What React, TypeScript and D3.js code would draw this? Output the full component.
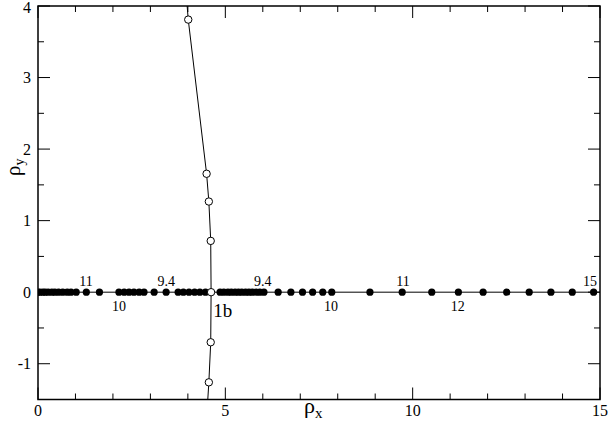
import React, { useEffect } from "react";
import * as d3 from "d3";

const filledX: number[] = [
  0, 0.05, 0.13, 0.19, 0.27, 0.37, 0.45, 0.55, 0.66, 0.78, 0.88, 1.02, 1.29, 1.64,
  2.16, 2.3, 2.43, 2.56, 2.7, 2.83, 3.1, 3.42,
  3.74, 3.88, 4.03, 4.18, 4.32, 4.47,
  4.86, 4.96, 5.07, 5.16, 5.26, 5.35, 5.44, 5.54, 5.63, 5.72, 5.82, 5.92, 6.03,
  6.41, 6.75, 7.06, 7.33, 7.6, 7.84, 8.86, 9.72, 10.51, 11.22, 11.88, 12.51, 13.11,
  13.69, 14.26, 14.83,
];
const filledY: number[] = filledX.map(() => 0);

const curveX: number[] = [3.95, 4.01, 4.5, 4.56, 4.61, 4.62, 4.61, 4.56, 4.52];
const curveY: number[] = [4.2, 3.81, 1.655, 1.267, 0.717, 0, -0.7, -1.26, -1.6];
const openX: number[] = [4.01, 4.5, 4.56, 4.61, 4.62, 4.61, 4.56];
const openY: number[] = [3.81, 1.655, 1.267, 0.717, 0, -0.7, -1.26];

const labelText: string[] = ["11", "10", "9.4", "9.4", "10", "11", "12", "15"];
const labelX: number[] = [1.28, 2.16, 3.42, 6.0, 7.82, 9.74, 11.2, 14.73];
const labelSide: string[] = ["above", "below", "above", "above", "below", "above", "below", "above"];

const xMajor: number[] = [0, 5, 10, 15];
const yMajor: number[] = [-1, 0, 1, 2, 3, 4];

const W = 609;
const H = 425;
const L = 38, R = 600, T = 6, B = 399.5;

export default function App() {
  useEffect(() => {
    document.body.style.margin = "0";
  }, []);

  const x = d3.scaleLinear().domain([0, 15]).range([L, R]);
  const y = d3.scaleLinear().domain([-1.5, 4]).range([B, T]);

  const xMinor = d3.range(0, 15.001, 1);
  const yMinor = d3.range(-1.5, 4.001, 0.5);

  const curveLine = d3
    .line<number>()
    .x((_, i) => x(curveX[i]))
    .y((_, i) => y(curveY[i]));
  const hLine = d3
    .line<number>()
    .x((d) => x(d))
    .y(() => y(0));

  const font = "'Liberation Serif', 'Times New Roman', serif";

  return (
    <svg width={W} height={H} style={{ display: "block", background: "#fff" }}>
      <defs>
        <clipPath id="plotclip">
          <rect x={L} y={T} width={R - L} height={B - T} />
        </clipPath>
      </defs>
      {/* ticks */}
      {xMinor.map((v) => {
        const big = xMajor.includes(v);
        const len = big ? 12 : 6;
        return (
          <g key={"xt" + v}>
            <line x1={x(v)} x2={x(v)} y1={B} y2={B - len} stroke="#000" strokeWidth={1} />
            <line x1={x(v)} x2={x(v)} y1={T} y2={T + len} stroke="#000" strokeWidth={1} />
          </g>
        );
      })}
      {yMinor.map((v) => {
        const big = yMajor.includes(v);
        const len = big ? 12 : 6;
        return (
          <g key={"yt" + v}>
            <line x1={L} x2={L + len} y1={y(v)} y2={y(v)} stroke="#000" strokeWidth={1} />
            <line x1={R} x2={R - len} y1={y(v)} y2={y(v)} stroke="#000" strokeWidth={1} />
          </g>
        );
      })}
      {/* tick labels */}
      {xMajor.map((v) => (
        <text key={"xl" + v} x={x(v)} y={416} textAnchor="middle" fontFamily={font} fontSize={16}>
          {v}
        </text>
      ))}
      {yMajor.map((v) => (
        <text
          key={"yl" + v}
          x={31}
          y={Math.max(y(v) + 5.5, 12.5)}
          textAnchor="end"
          fontFamily={font}
          fontSize={16}
        >
          {v}
        </text>
      ))}
      {/* axis labels */}
      <text x={304} y={413} fontFamily={font} fontSize={22}>
        ρ<tspan fontSize={15} dy={5}>x</tspan>
      </text>
      <text transform="translate(20,176) rotate(-90)" fontFamily={font} fontSize={21}>
        ρ<tspan fontSize={14} dy={4}>y</tspan>
      </text>

      <g clipPath="url(#plotclip)">
        <path d={hLine([0, 15]) || ""} stroke="#000" strokeWidth={1} fill="none" />
        <path d={curveLine(curveX) || ""} stroke="#000" strokeWidth={1} fill="none" />
        {filledX.map((v, i) => (
          <circle key={"f" + i} cx={x(v)} cy={y(filledY[i])} r={3.6} fill="#000" />
        ))}
        {openX.map((v, i) => (
          <circle key={"o" + i} cx={x(v)} cy={y(openY[i])} r={3.7} fill="#fff" stroke="#000" strokeWidth={1} />
        ))}
      </g>

      {labelText.map((t, i) => (
        <text
          key={"lab" + i}
          x={x(labelX[i])}
          y={labelSide[i] === "above" ? y(0) - 6 : y(0) + 19}
          textAnchor="middle"
          fontFamily={font}
          fontSize={14}
        >
          {t}
        </text>
      ))}
      <text x={x(4.68)} y={y(0) + 25} fontFamily={font} fontSize={19}>
        1b
      </text>

      <rect x={L} y={T} width={R - L} height={B - T} fill="none" stroke="#000" strokeWidth={1.5} />
    </svg>
  );
}
